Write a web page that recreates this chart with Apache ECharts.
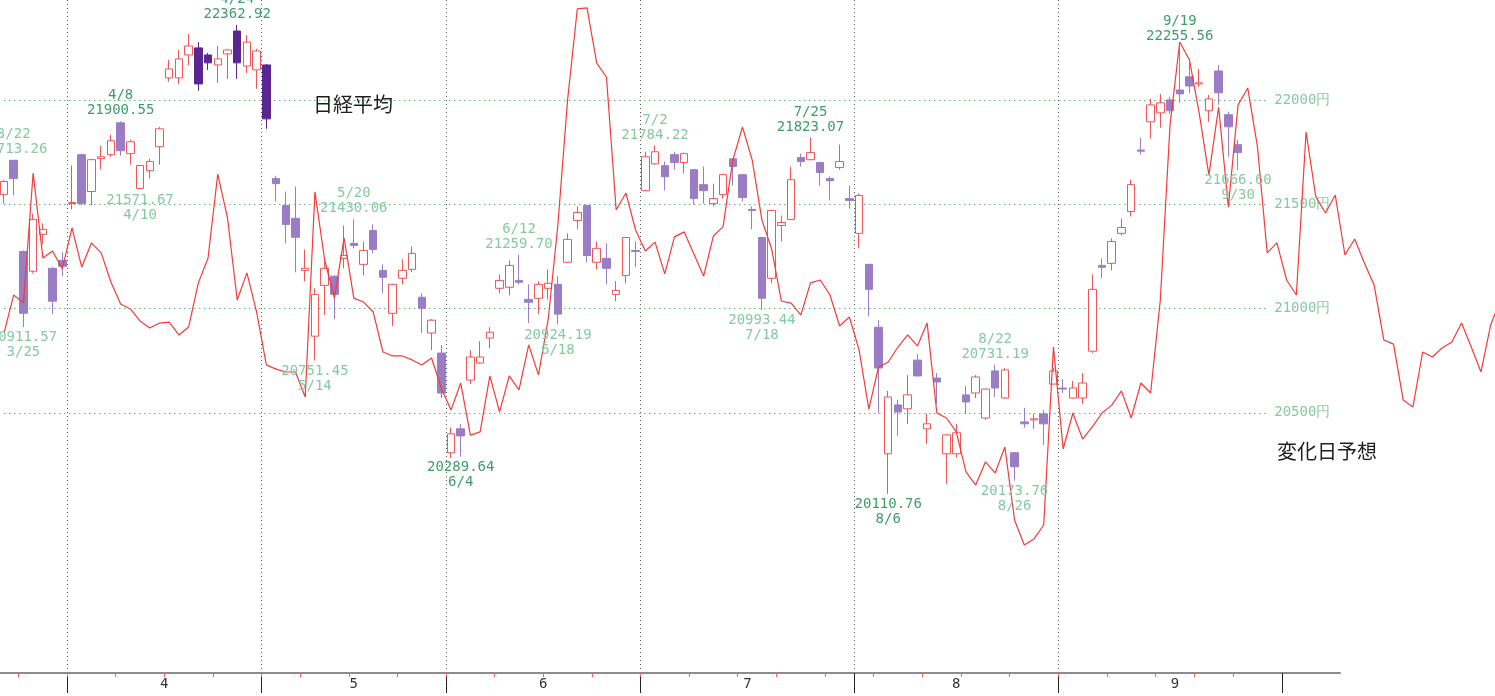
<!DOCTYPE html>
<html><head><meta charset="utf-8">
<script src="https://cdn.jsdelivr.net/npm/echarts@6/dist/echarts.min.js"></script>
<style>html,body{margin:0;padding:0;background:#fff;overflow:hidden}#c{width:1495px;height:696px}</style>
</head><body><div id="c"></div>
<script>
// ---- categories (trading days, 2019) ----
const dates = [
'3/20','3/22','3/25','3/26','3/27','3/28','3/29',
'4/1','4/2','4/3','4/4','4/5','4/8','4/9','4/10','4/11','4/12','4/15','4/16','4/17','4/18','4/19','4/22','4/23','4/24','4/25','4/26',
'5/7','5/8','5/9','5/10','5/13','5/14','5/15','5/16','5/17','5/20','5/21','5/22','5/23','5/24','5/27','5/28','5/29','5/30','5/31',
'6/3','6/4','6/5','6/6','6/7','6/10','6/11','6/12','6/13','6/14','6/17','6/18','6/19','6/20','6/21','6/24','6/25','6/26','6/27','6/28',
'7/1','7/2','7/3','7/4','7/5','7/8','7/9','7/10','7/11','7/12','7/16','7/17','7/18','7/19','7/22','7/23','7/24','7/25','7/26','7/29','7/30','7/31',
'8/1','8/2','8/5','8/6','8/7','8/8','8/9','8/13','8/14','8/15','8/16','8/19','8/20','8/21','8/22','8/23','8/26','8/27','8/28','8/29','8/30',
'9/2','9/3','9/4','9/5','9/6','9/9','9/10','9/11','9/12','9/13','9/17','9/18','9/19','9/20','9/24','9/25','9/26','9/27','9/30',
'10/1','10/2','10/3','10/4','10/7','10/8','10/9','10/10','10/11','10/15','10/16','10/17','10/18','10/21','10/23','10/24','10/25','10/28','10/29','10/30','10/31',
'11/1','11/5','11/6','11/7','11/8','11/11'
];

// ---- 日経平均 [open, close, low, high] ----
const ohlc = [
[21548,21611,21505,21620],[21713,21625,21544,21713.26],[21275,20978,20911.57,21280],[21180,21429,21170,21457],[21357,21381,21309,21410],[21194,21036,20974,21200],[21232,21204,21156,21271],
[21505,21510,21477,21688],[21740,21505,21496,21745],[21563,21716,21496,21720],[21721,21730,21668,21783],[21740,21807,21730,21836],[21893,21759,21735,21900.55],[21745,21802,21692,21812],[21578,21688,21571.67,21690],[21663,21707,21625,21721],[21778,21864,21692,21874],[22109,22152,22090,22195],[22109,22200,22080,22243],[22219,22262,22171,22320],[22253,22080,22047,22281],[22219,22181,22147,22229],[22171,22200,22085,22262],[22224,22243,22104,22248],[22334,22181,22104,22362.92],[22166,22281,22133,22315],[22147,22238,22056,22248],
[22171,21912,21864,22175],[21625,21601,21515,21639],[21496,21405,21314,21563],[21434,21343,21175,21587],[21184,21194,21132,21285],[20868,21069,20751.45,21098],[21112,21194,20969,21228],[21156,21069,20950,21160],[21242,21256,21194,21400],[21314,21304,21290,21430.06],[21213,21280,21160,21323],[21376,21285,21266,21405],[21184,21151,21074,21213],[20978,21117,20916,21120],[21146,21184,21117,21237],[21189,21266,21175,21299],[21055,21002,20883,21074],[20883,20945,20801,20950],[20787,20595,20571,20825],
[20308,20399,20284,20428],[20423,20389,20289.64,20447],[20657,20768,20638,20801],[20739,20768,20735,20844],[20859,20887,20811,20911],[21098,21136,21074,21165],[21103,21208,21064,21232],[21136,21127,21117,21259.70],[21045,21031,20931,21117],[21050,21117,20974,21132],[21098,21122,21045,21189],[21117,20974,20924.19,21156],[21223,21333,21220,21362],[21424,21462,21381,21491],[21496,21256,21223,21500],[21223,21290,21189,21323],[21242,21194,21117,21314],[21069,21088,21036,21132],[21160,21342,21122,21345],[21280,21275,21199,21323],
[21567,21730,21565,21754],[21696,21754,21692,21784.22],[21687,21634,21568,21707],[21740,21702,21668,21754],[21702,21745,21649,21750],[21668,21529,21500,21670],[21596,21567,21505,21683],[21505,21529,21491,21601],[21548,21644,21529,21649],[21720,21683,21591,21722],[21644,21534,21515,21648],[21477,21472,21381,21491],[21342,21050,20993.44,21345],[21146,21472,21122,21475],[21400,21414,21323,21448],[21429,21620,21425,21683],[21726,21707,21683,21745],[21716,21750,21712,21823.07],[21702,21654,21591,21706],[21625,21615,21520,21635],[21678,21707,21668,21788],[21529,21520,21481,21591],
[21362,21544,21290,21553],[21213,21093,20964,21215],[20911,20715,20499,20945],[20303,20576,20110.76,20605],[20538,20504,20389,20562],[20519,20586,20447,20681],[20753,20677,20675,20782],[20423,20447,20351,20495],[20667,20648,20543,20691],[20303,20394,20159,20397],[20303,20404,20284,20447],[20586,20552,20495,20629],[20595,20672,20571,20681],[20475,20614,20466,20618],[20701,20619,20576,20731.19],[20571,20706,20567,20715],[20308,20241,20173.76,20310],[20456,20447,20428,20523],[20466,20471,20423,20495],[20495,20447,20346,20514],[20638,20701,20636,20715],
[20619,20614,20595,20662],[20571,20619,20569,20653],[20571,20643,20543,20691],[20796,21093,20787,21165],[21208,21199,21146,21242],[21218,21323,21184,21338],[21362,21390,21352,21433],[21467,21596,21443,21620],[21762,21757,21740,21822],[21898,21979,21817,22008],[21941,21989,21869,22032],[22003,21951,21936,22018],[22051,22032,21989,22255.56],[22114,22070,22037,22185],[22080,22085,22066,22152],[21951,22008,21898,22027],[22142,22037,21980,22171],[21932,21874,21730,21946],[21788,21750,21666.60,21812]
];

// ---- 変化日予想 (forecast line, one value per category) ----
const forecast = [
20883,21066,21027,21652,21244,21277,21191,21388,21200,21316,21268,21128,21023,20999,20941,20907,20931,20936,20874,20912,
21124,21244,21647,21436,21042,21172,20984,20730,20710,20696,20696,20576,21561,21234,21051,21340,21051,21032,20984,20792,
20773,20773,20754,20730,20763,20619,20513,20643,20393,20408,20677,20504,20677,20610,20826,20682,20946,21402,22003,22440,
22445,22180,22113,21474,21556,21378,21277,21320,21167,21345,21369,21263,21157,21349,21393,21714,21873,21714,21426,21287,
21037,21027,20970,21124,21138,21066,20917,20960,20802,20518,20720,20744,20816,20874,20821,20931,20499,20475,20408,20216,
20153,20264,20211,20336,19985,19865,19894,19961,20816,20326,20499,20374,20432,20499,20537,20605,20475,20643,20595,21042,
21883,22281,22195,21940,21642,21969,21489,21979,22060,21777,21268,21316,21138,21066,21849,21537,21460,21546,21258,21335,
21220,21114,20850,20830,20561,20528,20792,20768,20811,20840,20931,20816,20696,20922,21042
];

// ---- price grid levels (円) ----
const gridLevels = [20500, 21000, 21500, 22000];

// ---- annotated highs / lows ----
const highNotes = [['3/22',21713.26],['4/8',21900.55],['4/24',22362.92],['5/20',21430.06],['6/12',21259.70],['7/2',21784.22],['7/25',21823.07],['8/22',20731.19],['9/19',22255.56]];
const lowNotes  = [['3/25',20911.57],['4/10',21571.67],['5/14',20751.45],['6/4',20289.64],['6/18',20924.19],['7/18',20993.44],['8/6',20110.76],['8/26',20173.76],['9/30',21666.60]];
const strongNotes = ['4/8','4/24','6/4','7/25','8/6','9/19'];
const darkCandles = ['4/18','4/19','4/24','5/7'];
// month labels: some sit on a day's centre, some on a day boundary
const monthLabelsCentre = ['5/20','8/16'];
const monthLabelsEdge = ['4/15','6/17','7/17','9/19'];
const endMark = '10/7';

// ---- build ----
const BAND = 9.717;
const LEFT = -0.86;
const N0 = 138;              // categories under the drawn axis line
const NT = 134;              // categories on the boundary-tick axis
const NC = ohlc.length;      // candles
const cats0 = dates.slice(0, N0);
const catsT = dates.slice(0, NT);
function dt(s){const p=s.split('/').map(Number);return new Date(2019,p[0]-1,p[1]);}
function monthStart(i){return i>0 && i<NC && dt(dates[i]).getMonth()!==dt(dates[i-1]).getMonth();}
function weekStart(i){if(i===0||i>=NC)return false;const a=dt(dates[i-1]),b=dt(dates[i]);return b.getDay()<=a.getDay()||(b-a)>6*864e5;}
const monthOf = v => v.split('/')[0];

const RED='#f25555', PURPLE='#9a7dc4', DARKP='#5a2791';
const LIGHTG='#86c9a0', DARKG='#3f9c68';
const MONO='DejaVu Sans Mono';
const axisLabelStyle = {margin:4,color:'#333',fontFamily:MONO,fontSize:14};

const candleData = ohlc.map((v,i)=> darkCandles.includes(dates[i]) ? {value:v,itemStyle:{color0:DARKP,borderColor0:DARKP}} : v);

const notes = [];
highNotes.forEach(([d,v])=>notes.push({coord:[d,v],label:{position:'top',distance:3,formatter:d+'\n'+v.toFixed(2),color:strongNotes.includes(d)?DARKG:LIGHTG}}));
lowNotes.forEach(([d,v])=>notes.push({coord:[d,v],label:{position:'bottom',distance:3,formatter:v.toFixed(2)+'\n'+d,color:strongNotes.includes(d)?DARKG:LIGHTG}}));

const gridLines = gridLevels.map(v=>[{coord:[cats0[0],v],label:{formatter:v+'円'}},{coord:[cats0[130],v]}]);

const gridBase = {top:0,height:673,outerBoundsMode:'none',containLabel:false};

const chart = echarts.init(document.getElementById('c'));
chart.setOption({
  animation:false,
  backgroundColor:'#ffffff',
  title:[
    {text:'日経平均',left:313,top:94,padding:0,textStyle:{fontFamily:'Noto Sans CJK JP',fontSize:20,fontWeight:'normal',color:'#1e1e1e'}},
    {text:'変化日予想',left:1277,top:441,padding:0,textStyle:{fontFamily:'Noto Sans CJK JP',fontSize:20,fontWeight:'normal',color:'#1e1e1e'}}
  ],
  grid:[
    Object.assign({left:LEFT,width:N0*BAND},gridBase),
    Object.assign({left:LEFT-BAND/2,width:NT*BAND},gridBase),
    Object.assign({left:LEFT,width:dates.length*BAND},gridBase)
  ],
  xAxis:[
    // main axis: candles; draws the axis line
    {type:'category',gridIndex:0,data:cats0,boundaryGap:true,position:'bottom',
     axisLine:{show:true,lineStyle:{color:'#8c8c8c',width:2}},
     axisTick:{show:false},splitLine:{show:false},
     axisLabel:Object.assign({show:true,interval:(i,v)=>monthLabelsCentre.includes(v),formatter:monthOf},axisLabelStyle)},
    // half-band shifted axis: its category centres are day boundaries of the main axis
    {type:'category',gridIndex:1,data:catsT,boundaryGap:true,position:'bottom',offset:0,
     axisLine:{show:false},
     axisTick:{show:true,alignWithLabel:true,interval:(i,v)=>monthStart(i)||v===endMark,length:20,lineStyle:{color:'#222',width:1}},
     axisLabel:Object.assign({show:true,interval:(i,v)=>monthLabelsEdge.includes(v),formatter:monthOf},axisLabelStyle),
     splitLine:{show:true,alignWithLabel:true,interval:(i)=>monthStart(i),lineStyle:{color:'#555',type:[1,3],width:1}}},
    {type:'category',gridIndex:1,data:catsT,boundaryGap:true,position:'bottom',offset:0,
     axisLine:{show:false},axisLabel:{show:false},splitLine:{show:false},
     axisTick:{show:true,alignWithLabel:true,interval:(i)=>weekStart(i),length:4,lineStyle:{color:'#ff5a5a',width:1}}},
    // full-length axis for the forecast line
    {type:'category',gridIndex:2,data:dates,boundaryGap:true,show:false}
  ],
  yAxis:[
    {type:'value',gridIndex:0,min:19250,max:22483,show:false},
    {type:'value',gridIndex:1,min:19250,max:22483,show:false},
    {type:'value',gridIndex:2,min:19250,max:22483,show:false}
  ],
  series:[
    {type:'candlestick',name:'日経平均',xAxisIndex:0,yAxisIndex:0,data:candleData,barWidth:8,z:2,
     itemStyle:{color:'#ffffff',color0:PURPLE,borderColor:RED,borderColor0:PURPLE,borderWidth:1},
     markLine:{silent:true,symbol:['none','none'],z:1,animation:false,
       lineStyle:{color:'#5fb582',type:[1.5,3.5],width:1},
       label:{show:true,position:'end',distance:7,color:LIGHTG,fontFamily:MONO,fontSize:14},
       data:gridLines},
     markPoint:{silent:true,symbol:'circle',symbolSize:0,itemStyle:{color:'rgba(0,0,0,0)'},
       label:{show:true,fontFamily:MONO,fontSize:14,lineHeight:15},
       data:notes}},
    {type:'line',name:'変化日予想',xAxisIndex:3,yAxisIndex:2,data:forecast,symbol:'none',z:3,
     lineStyle:{color:'#f43a3a',width:1.2}}
  ]
});
</script></body></html>
